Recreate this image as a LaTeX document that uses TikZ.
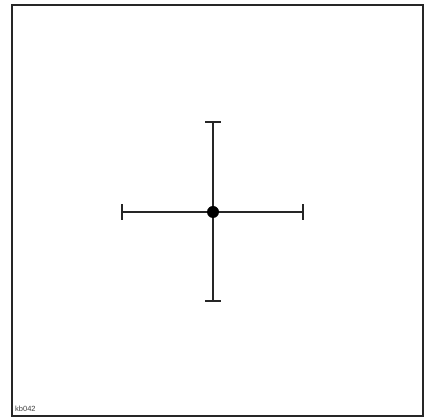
\documentclass[tikz,border=0pt]{standalone}
\usepackage{fontspec}
\setmainfont{Liberation Sans}
\begin{document}
\begin{tikzpicture}[x=1pt,y=1pt,
  axisline/.style={draw=black!85, line width=1.8pt},
  capline/.style={draw=black!85, line width=1.8pt},
  framebox/.style={draw=black!85, line width=1.8pt}]
\useasboundingbox (0,0) rectangle (426,419);
\draw[framebox] (12,3) rectangle (423,414);
\coordinate (C) at (213,207);
\coordinate (L) at (122,207);
\coordinate (R) at (303,207);
\coordinate (T) at (213,297);
\coordinate (B) at (213,118);
\draw[axisline] (L) -- (R);
\draw[axisline] (T) -- (B);
\draw[capline] ([yshift=-8]L) -- ([yshift=8]L);
\draw[capline] ([yshift=-8]R) -- ([yshift=8]R);
\draw[capline] ([xshift=-8]T) -- ([xshift=8]T);
\draw[capline] ([xshift=-8]B) -- ([xshift=8]B);
\fill[black] (C) circle (6);
\node[anchor=base west, inner sep=0, font=\fontsize{7.5}{8}\selectfont, text=black!75] (lbl) at (15,7) {kb042};
\end{tikzpicture}
\end{document}
